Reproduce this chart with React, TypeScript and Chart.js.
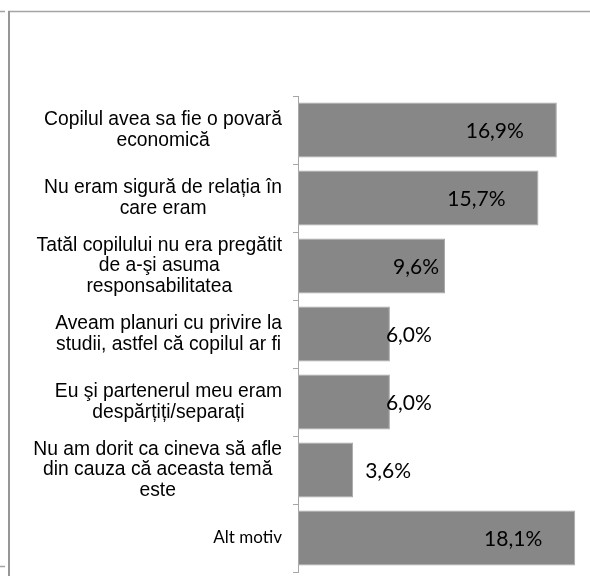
import React, { useEffect, useRef } from "react";
import { Chart, registerables } from "chart.js";

Chart.register(...registerables);

const categoryLines: string[][] = [
  ["Copilul avea sa fie o povară", "economică"],
  ["Nu eram sigură de relația în", "care eram"],
  ["Tatăl copilului nu era pregătit", "de a-şi asuma", "responsabilitatea"],
  ["Aveam planuri cu privire la", "studii, astfel că copilul ar fi"],
  ["Eu şi partenerul meu eram", "despărțiți/separați"],
  ["Nu am dorit ca cineva să afle", "din cauza că aceasta temă", "este"],
  ["Alt motiv"],
];
const categories: string[] = categoryLines.map((l) => l.join(" "));
const values: number[] = [16.9, 15.7, 9.6, 6.0, 6.0, 3.6, 18.1];
const valueLabels: string[] = ["16,9%", "15,7%", "9,6%", "6,0%", "6,0%", "3,6%", "18,1%"];

const framePlugin = {
  id: "frame",
  beforeDraw(chart: any) {
    const ctx = chart.ctx;
    ctx.save();
    ctx.strokeStyle = "#a4a4a4";
    ctx.lineWidth = 1.3;
    ctx.beginPath();
    ctx.moveTo(8, 11.5);
    ctx.lineTo(chart.width, 11.5);
    ctx.moveTo(0, 11.5);
    ctx.lineTo(5, 11.5);
    ctx.moveTo(0, 566.5);
    ctx.lineTo(5, 566.5);
    ctx.stroke();
    ctx.strokeStyle = "#969696";
    ctx.lineWidth = 2;
    ctx.beginPath();
    ctx.moveTo(9, 11);
    ctx.lineTo(9, chart.height);
    ctx.stroke();
    ctx.restore();
  },
};

const labelPlugin = {
  id: "customLabels",
  afterDraw(chart: any) {
    const ctx = chart.ctx;
    const yScale = chart.scales.y;
    const xScale = chart.scales.x;
    const left = chart.chartArea.left;
    const blockRight = left - 16;
    ctx.save();
    ctx.fillStyle = "#000";
    ctx.textBaseline = "middle";
    // category labels: each block right-aligned to the axis, lines centred in it
    categoryLines.forEach((lines, i) => {
      const yc = yScale.getPixelForValue(i);
      const isLast = i === categoryLines.length - 1;
      if (isLast) {
        ctx.font = "17px Lato";
        ctx.textAlign = "right";
        ctx.fillText(lines[0], blockRight, yc);
        return;
      }
      ctx.font = "19.3px 'Liberation Sans'";
      ctx.textAlign = "center";
      const widest = Math.max(...lines.map((t) => ctx.measureText(t).width));
      const cx = blockRight - widest / 2;
      const lh = 20.8;
      const y0 = yc - ((lines.length - 1) * lh) / 2;
      lines.forEach((t, j) => ctx.fillText(t, cx, y0 + j * lh));
    });
    // value labels
    ctx.font = "21px Lato";
    values.forEach((v, i) => {
      const end = xScale.getPixelForValue(v);
      const yc = yScale.getPixelForValue(i) + 1;
      if (v >= 12) {
        ctx.textAlign = "right";
        ctx.fillText(valueLabels[i], end - 33, yc);
      } else if (v >= 8) {
        ctx.textAlign = "right";
        ctx.fillText(valueLabels[i], end - 6, yc);
      } else if (v >= 5) {
        ctx.textAlign = "left";
        ctx.fillText(valueLabels[i], end - 4, yc);
      } else {
        ctx.textAlign = "left";
        ctx.fillText(valueLabels[i], end + 12, yc);
      }
    });
    ctx.restore();
  },
};

export default function App() {
  const ref = useRef<HTMLCanvasElement | null>(null);
  useEffect(() => {
    if (!ref.current) return;
    const chart = new Chart(ref.current, {
      type: "bar",
      data: {
        labels: categories,
        datasets: [
          {
            data: values,
            backgroundColor: "#878787",
            borderColor: "#a9a9a9",
            borderWidth: 1,
            borderSkipped: false,
            categoryPercentage: 1,
            barPercentage: 0.81,
          },
        ],
      },
      options: {
        indexAxis: "y",
        animation: false,
        responsive: false,
        devicePixelRatio: 1,
        layout: { padding: { left: 293, top: 96, right: 1, bottom: 4 } },
        plugins: {
          legend: { display: false },
          tooltip: { enabled: false },
        },
        scales: {
          x: { display: false, min: 0, max: 19 },
          y: {
            ticks: { display: false },
            grid: {
              drawOnChartArea: false,
              drawTicks: true,
              tickLength: 5,
              color: "#a6a6a6",
              lineWidth: 1,
            },
            border: { display: true, color: "#a6a6a6", width: 1 },
          },
        },
      },
      plugins: [framePlugin, labelPlugin],
    });
    return () => chart.destroy();
  }, []);
  return (
    <div style={{ position: "fixed", left: 0, top: 0, width: 590, height: 576, background: "#fff" }}>
      <canvas ref={ref} width={590} height={576} />
    </div>
  );
}
